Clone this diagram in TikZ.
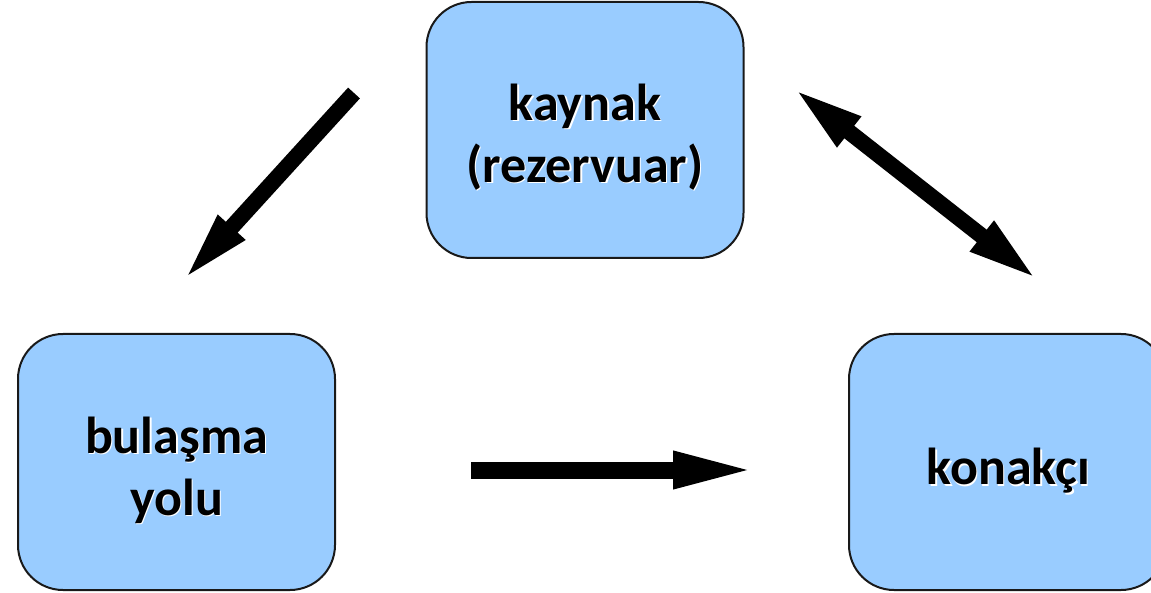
\documentclass[tikz,border=0pt]{standalone}
\usepackage{fontspec}
\setmainfont{Carlito}
\usetikzlibrary{arrows.meta}
\definecolor{boxblue}{RGB}{153,204,255}
\begin{document}
\begin{tikzpicture}[x=1pt,y=-1pt,
  box/.style={draw=black!90,line width=2pt,fill=boxblue,rounded corners=45pt,
    minimum width=317pt,minimum height=256pt,inner sep=0pt},
  lbl/.style={font=\fontsize{52}{62}\selectfont\bfseries,align=center,text=black,inner sep=0pt},
  shd/.style={lbl,text=white},
  bigarrow/.style={line width=16pt,draw=black}
]
\useasboundingbox (0,0) rectangle (1151,593);
\begin{scope}
\clip (0,0) rectangle (1151,593);
\node[box] (kaynak) at (585,130) {};
\node[box] (yol) at (176.5,462) {};
\node[box] (konak) at (1007.5,462) {};
\end{scope}
% labels with light shadow
\node[shd] (kaynakS) at (586.5,138.5) {kaynak\\(rezervuar)};
\node[lbl] (kaynakT) at (585,137) {kaynak\\(rezervuar)};
\node[shd] (yolS) at (178,471.5) {bulaşma\\yolu};
\node[lbl] (yolT) at (176.5,470) {bulaşma\\yolu};
\node[shd] (konakS) at (1010,472.5) {konakçı};
\node[lbl] (konakT) at (1008.5,471) {konakçı};
% arrow end points
\coordinate (a1s) at (354,93);
\coordinate (a1e) at (181.9,281.9);
\coordinate (a2s) at (792.6,87.6);
\coordinate (a2e) at (1038.4,280.4);
\coordinate (a3s) at (471,470);
\coordinate (a3e) at (759,470);
\draw[bigarrow,-{Triangle[length=74pt,width=32pt]}] (a1s) -- (a1e);
\draw[bigarrow,{Triangle[length=72pt,width=34pt]}-{Triangle[length=72pt,width=34pt]}] (a2s) -- (a2e);
\draw[bigarrow,line width=17pt,-{Triangle[length=86pt,width=33pt]}] (a3s) -- (a3e);
\end{tikzpicture}
\end{document}
